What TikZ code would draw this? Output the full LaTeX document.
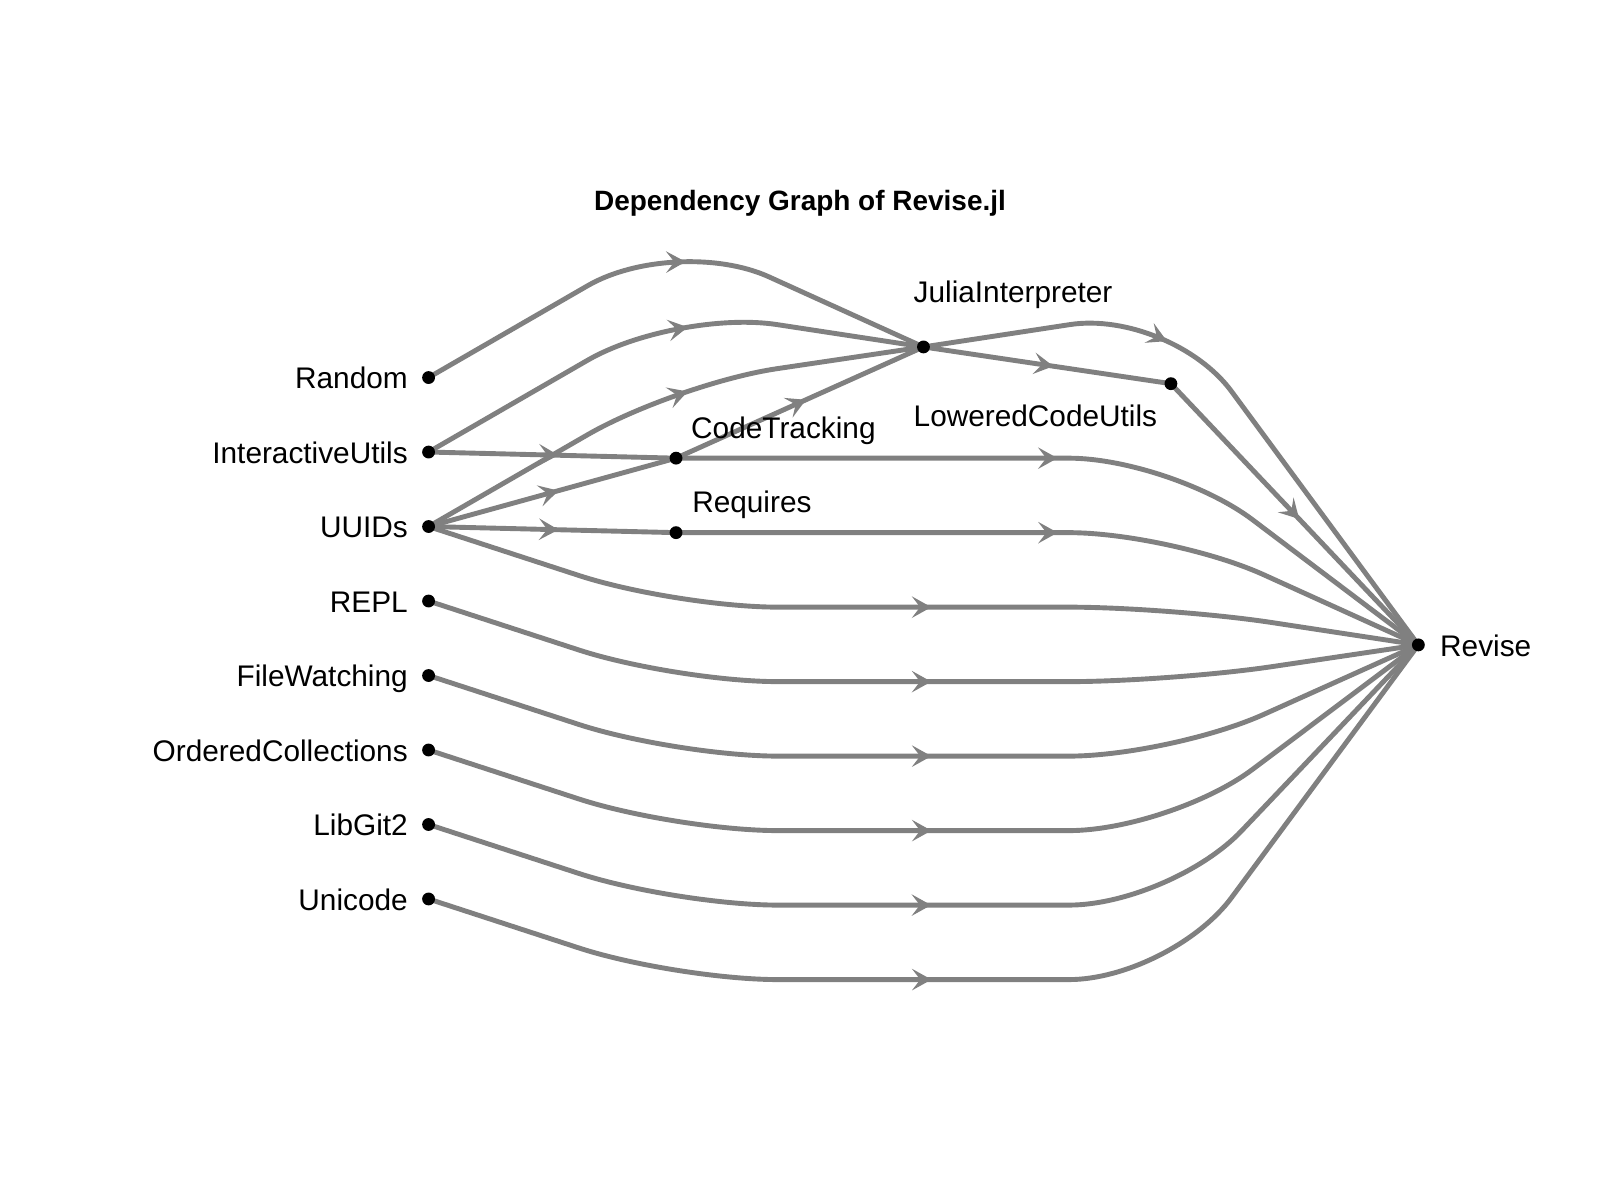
\documentclass[tikz,border=0pt]{standalone}
\usepackage{fontspec}
\setmainfont{Liberation Sans}
\usetikzlibrary{arrows.meta,decorations.markings,backgrounds}
\begin{document}
\begin{tikzpicture}[x=0.5pt,y=-0.5pt,
  edge/.style={color=gray, line width=2.4pt, rounded corners=50pt},
  arrowat/.style={postaction={decorate,decoration={markings,mark=at position #1 with {\arrow{Stealth[length=9.5pt,width=10.5pt,inset=4pt]}}}}},
  dot/.style={circle, fill=black, inner sep=0pt, minimum size=6.3pt},
  lbl/.style={font=\fontsize{14.6}{17}\selectfont, inner sep=0pt, text=black},
  ttl/.style={font=\fontsize{13.7}{16}\selectfont\bfseries, inner sep=0pt, text=black}]
\useasboundingbox (0,0) rectangle (1568,1176);
% nodes
\node[dot] (R)   at (420,370) {};
\node[dot] (IU)  at (420,443) {};
\node[dot] (U)   at (420,516) {};
\node[dot] (RE)  at (420,589) {};
\node[dot] (FW)  at (420,662) {};
\node[dot] (OC)  at (420,735) {};
\node[dot] (LG)  at (420,808) {};
\node[dot] (UC)  at (420,881) {};
\node[dot] (CT)  at (662.5,449) {};
\node[dot] (RQ)  at (662.5,522) {};
\node[dot] (JI)  at (905,340) {};
\node[dot] (LCU) at (1147.5,376) {};
\node[dot] (RV)  at (1390,632) {};
% bend points
\coordinate (ra) at (662.5,230);
\coordinate (ia) at (662.5,303);
\coordinate (uj) at (662.5,376);
\coordinate (jc) at (1147.5,303);
\coordinate (ctb) at (905,449);   \coordinate (ctc) at (1147.5,449);
\coordinate (rqb) at (905,522);   \coordinate (rqc) at (1147.5,522);
\coordinate (ua) at (662.5,595);  \coordinate (ub) at (905,595);  \coordinate (uc) at (1147.5,595);
\coordinate (pa) at (662.5,668);  \coordinate (pb) at (905,668);  \coordinate (pc) at (1147.5,668);
\coordinate (fa) at (662.5,741);  \coordinate (fb) at (905,741);  \coordinate (fc) at (1147.5,741);
\coordinate (oa) at (662.5,814);  \coordinate (ob) at (905,814);  \coordinate (oc) at (1147.5,814);
\coordinate (la) at (662.5,887);  \coordinate (lb) at (905,887);  \coordinate (lc) at (1147.5,887);
\coordinate (ca) at (662.5,960);  \coordinate (cb) at (905,960);  \coordinate (cc) at (1147.5,960);
% edges
\begin{scope}[on background layer]
\fill[white] (0,0) rectangle (1568,1176);
\draw[edge, arrowat=0.528] (R.center) -- (ra) -- (JI.center);
\draw[edge, arrowat=0.549] (IU.center) -- (ia) -- (JI.center);
\draw[edge, arrowat=0.549] (U.center) -- (uj) -- (JI.center);
\draw[edge, arrowat=0.384] (JI.center) -- (jc) -- (RV.center);
\draw[edge, arrowat=0.525] (IU.center) -- (CT.center);
\draw[edge, arrowat=0.525] (U.center) -- (CT.center);
\draw[edge, arrowat=0.525] (U.center) -- (RQ.center);
\draw[edge, arrowat=0.525] (CT.center) -- (JI.center);
\draw[edge, arrowat=0.525] (JI.center) -- (LCU.center);
\draw[edge, arrowat=0.518] (LCU.center) -- (RV.center);
\draw[edge, arrowat=0.479] (CT.center) -- (ctb) -- (ctc) -- (RV.center);
\draw[edge, arrowat=0.5] (RQ.center) -- (rqb) -- (rqc) -- (RV.center);
\draw[edge, arrowat=0.512] (U.center) -- (ua) -- (ub) -- (uc) -- (RV.center);
\draw[edge, arrowat=0.512] (RE.center) -- (pa) -- (pb) -- (pc) -- (RV.center);
\draw[edge, arrowat=0.503] (FW.center) -- (fa) -- (fb) -- (fc) -- (RV.center);
\draw[edge, arrowat=0.487] (OC.center) -- (oa) -- (ob) -- (oc) -- (RV.center);
\draw[edge, arrowat=0.467] (LG.center) -- (la) -- (lb) -- (lc) -- (RV.center);
\draw[edge, arrowat=0.4455] (UC.center) -- (ca) -- (cb) -- (cc) -- (RV.center);
\end{scope}
% labels
\node[lbl, anchor=base east] (Rl)  at (400,381) {Random};
\node[lbl, anchor=base east] (IUl) at (400,454) {InteractiveUtils};
\node[lbl, anchor=base east] (Ul)  at (400,527) {UUIDs};
\node[lbl, anchor=base east] (REl) at (400,600) {REPL};
\node[lbl, anchor=base east] (FWl) at (400,673) {FileWatching};
\node[lbl, anchor=base east] (OCl) at (400,746) {OrderedCollections};
\node[lbl, anchor=base east] (LGl) at (400,819) {LibGit2};
\node[lbl, anchor=base east] (UCl) at (400,892) {Unicode};
\node[lbl, anchor=base west] (CTl) at (677,430) {CodeTracking};
\node[lbl, anchor=base west] (RQl) at (678,502) {Requires};
\node[lbl, anchor=base west] (JIl) at (895,296) {JuliaInterpreter};
\node[lbl, anchor=base west] (LCUl) at (895,418) {LoweredCodeUtils};
\node[lbl, anchor=base west] (RVl) at (1411,643) {Revise};
\node[ttl, anchor=base] (title) at (784,206) {Dependency Graph of Revise.jl};
\end{tikzpicture}
\end{document}
